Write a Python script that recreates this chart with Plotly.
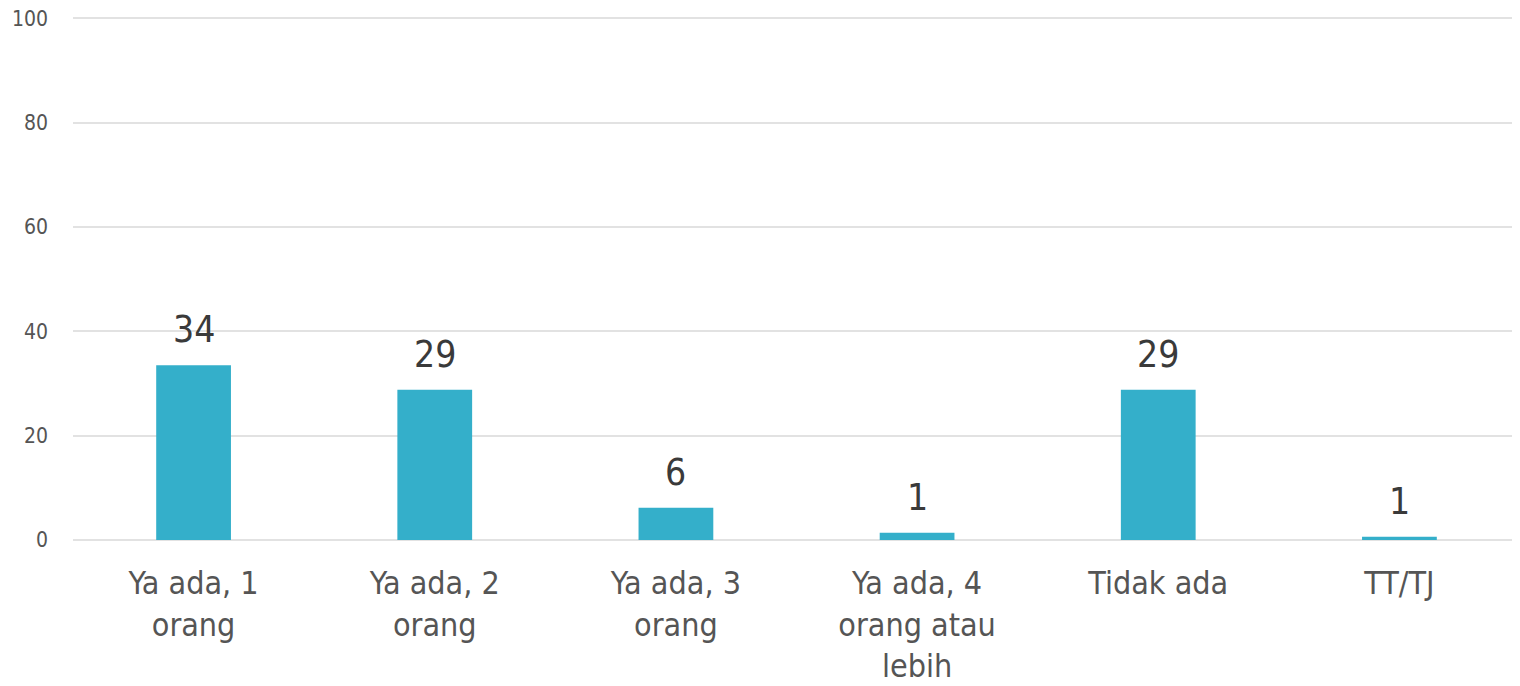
import plotly.graph_objects as go

categories = ["Ya ada, 1<br>orang", "Ya ada, 2<br>orang", "Ya ada, 3<br>orang",
              "Ya ada, 4<br>orang atau<br>lebih", "Tidak ada", "TT/TJ"]
values = [33.5, 28.8, 6.2, 1.4, 28.8, 0.6]
y_ticks = [0, 20, 40, 60, 80, 100]

FONT = "DejaVu Sans Condensed"

fig = go.Figure(go.Bar(
    x=categories, y=values,
    marker=dict(color="#34AFCA", line=dict(width=0)),
    hoverinfo="x+y",
))

for c, v in zip(categories, values):
    fig.add_annotation(x=c, y=v, text=f"{v:.0f}", showarrow=False,
                       yanchor="bottom", yshift=12,
                       font=dict(size=37, color="#3a3a3a", family=FONT))

# page body has an 8px margin, so the figure is sized/offset to compensate
fig.update_layout(
    width=1512, height=678,
    margin=dict(l=65, r=0, t=9, b=146, autoexpand=False),
    paper_bgcolor="white", plot_bgcolor="white",
    bargap=0.69,
    showlegend=False,
    font=dict(family=FONT, color="#555555"),
)
fig.update_yaxes(range=[0, 100.25], tickvals=y_ticks, showgrid=True,
                 gridcolor="#e2e2e2", gridwidth=2, zeroline=True,
                 zerolinecolor="#e2e2e2", zerolinewidth=2,
                 tickfont=dict(size=21, color="#555555", family=FONT), ticks="",
                 ticklabelstandoff=24, automargin=False,
                 ticklabeloverflow="allow")
fig.update_xaxes(tickfont=dict(size=32, color="#555555", family=FONT), ticks="",
                 showline=False, tickangle=0, automargin=False,
                 ticklabelstandoff=21, ticklabeloverflow="allow")

fig.write_html("out.html")
